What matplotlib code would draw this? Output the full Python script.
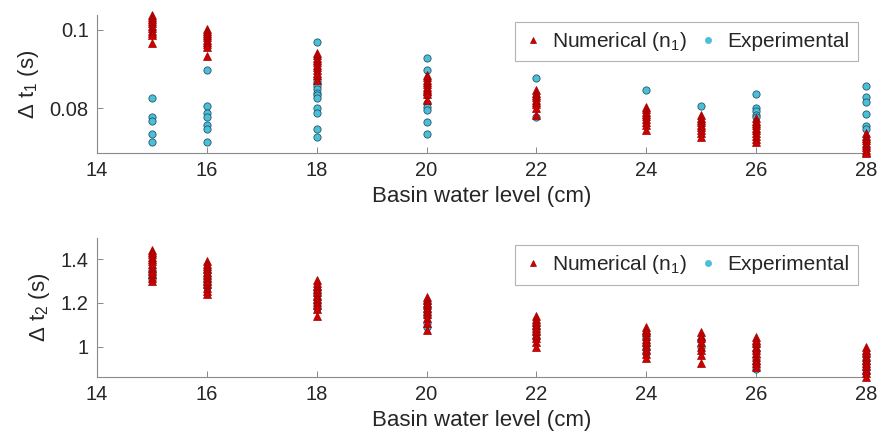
import numpy as np
import matplotlib
matplotlib.use("Agg")
import matplotlib.pyplot as plt
from matplotlib.lines import Line2D

plt.rcParams["font.family"] = ["Liberation Sans", "DejaVu Sans"]
plt.rcParams["mathtext.fontset"] = "custom"
plt.rcParams["mathtext.rm"] = "Liberation Sans"
plt.rcParams["mathtext.default"] = "regular"

# -----------------------------
# Datos (nivel del agua en cm)
# -----------------------------

levels = [15, 16, 18, 20, 22, 24, 25, 26, 28]

dt1_num = [
    [0.1038, 0.1032, 0.1027, 0.1022, 0.1016, 0.1010, 0.1004, 0.0998, 0.0992, 0.0987, 0.0967],
    [0.1002, 0.0997, 0.0992, 0.0986, 0.0981, 0.0975, 0.0969, 0.0963, 0.0957, 0.0933],
    [0.0941, 0.0935, 0.0929, 0.0923, 0.0917, 0.0911, 0.0905, 0.0898, 0.0891, 0.0884, 0.0872],
    [0.0885, 0.0879, 0.0873, 0.0867, 0.0861, 0.0855, 0.0849, 0.0843, 0.0836, 0.0820],
    [0.0846, 0.0840, 0.0834, 0.0828, 0.0822, 0.0816, 0.0810, 0.0800, 0.0782],
    [0.0803, 0.0797, 0.0791, 0.0785, 0.0779, 0.0772, 0.0765, 0.0758, 0.0744],
    [0.0782, 0.0776, 0.0770, 0.0764, 0.0758, 0.0752, 0.0745, 0.0737, 0.0726],
    [0.0774, 0.0768, 0.0762, 0.0756, 0.0750, 0.0744, 0.0737, 0.0730, 0.0722, 0.0713],
    [0.0736, 0.0730, 0.0724, 0.0718, 0.0712, 0.0706, 0.0700, 0.0694, 0.0688, 0.0686],
]

dt1_exp = [
    [0.0826, 0.0778, 0.0767, 0.0735, 0.0714],
    [0.0897, 0.0805, 0.0788, 0.0778, 0.0756, 0.0748, 0.0714],
    [0.0968, 0.0872, 0.0864, 0.0856, 0.0848, 0.0840, 0.0833, 0.0826, 0.0800, 0.0787, 0.0746, 0.0726],
    [0.0927, 0.0897, 0.0833, 0.0813, 0.0803, 0.0795, 0.0765, 0.0735],
    [0.0876, 0.0777],
    [0.0846],
    [0.0805],
    [0.0836, 0.0800, 0.0792, 0.0784, 0.0777],
    [0.0856, 0.0828, 0.0815, 0.0785, 0.0754, 0.0746],
]

dt2_num = [
    [1.441, 1.432, 1.422, 1.411, 1.400, 1.390, 1.380, 1.359, 1.345, 1.330, 1.315, 1.300],
    [1.392, 1.380, 1.368, 1.356, 1.342, 1.328, 1.314, 1.300, 1.285, 1.270, 1.256, 1.243],
    [1.304, 1.290, 1.276, 1.262, 1.248, 1.234, 1.220, 1.205, 1.190, 1.172, 1.140],
    [1.228, 1.215, 1.202, 1.189, 1.176, 1.162, 1.148, 1.130, 1.110, 1.076],
    [1.141, 1.128, 1.115, 1.100, 1.085, 1.070, 1.055, 1.040, 1.020, 0.997],
    [1.091, 1.078, 1.065, 1.050, 1.035, 1.020, 1.005, 0.985, 0.965, 0.947],
    [1.068, 1.050, 1.040, 1.020, 1.000, 0.985, 0.960, 0.926],
    [1.045, 1.030, 1.015, 1.000, 0.985, 0.970, 0.955, 0.940, 0.925, 0.908],
    [1.000, 0.985, 0.970, 0.955, 0.940, 0.925, 0.910, 0.895, 0.880, 0.862],
]

dt2_exp = [
    [1.350, 1.335, 1.320, 1.310],
    [1.340, 1.320, 1.300, 1.285, 1.274],
    [1.258, 1.240, 1.220, 1.200, 1.176],
    [1.200, 1.180, 1.160, 1.140, 1.110, 1.090],
    [1.100, 1.080, 1.060, 1.040],
    [1.060, 1.040, 1.010, 0.990, 0.970],
    [1.030, 1.000],
    [1.010, 0.980, 0.950, 0.920, 0.900],
    [0.960, 0.940, 0.920, 0.900, 0.880],
]

x_ticks = [14, 16, 18, 20, 22, 24, 26, 28]


def aplanar(grupos):
    xs = np.repeat(levels, [len(g) for g in grupos])
    ys = np.concatenate([np.array(g) for g in grupos])
    return xs, ys


# -----------------------------
# Estilo
# -----------------------------

rojo = "#d00000"
rojo_borde = "#a00000"
cian = "#4cbfd8"
cian_borde = "#24566a"
gris = "#8a8a8a"
texto = "#262626"

fig = plt.figure(figsize=(8.77, 4.37), dpi=100)
ax1 = fig.add_axes([0.1106, 0.650, 0.877, 0.316])
ax2 = fig.add_axes([0.1106, 0.137, 0.877, 0.318])


def dibujar(ax, num, exp, ylim, yticks, yticklabels, ylabel):
    xe, ye = aplanar(exp)
    xn, yn = aplanar(num)
    ax.plot(xe, ye, "o", ms=5.2, mfc=cian, mec=cian_borde, mew=0.6,
            clip_on=False, zorder=2)
    ax.plot(xn, yn, "^", ms=5.6, mfc=rojo, mec=rojo_borde, mew=0.5,
            clip_on=False, zorder=3)

    ax.set_xlim(14, 28)
    ax.set_ylim(*ylim)
    ax.set_xticks(x_ticks)
    ax.set_yticks(yticks)
    ax.set_yticklabels(yticklabels)

    for lado in ["top", "right"]:
        ax.spines[lado].set_visible(False)
    for lado in ["left", "bottom"]:
        ax.spines[lado].set_color(gris)
        ax.spines[lado].set_linewidth(0.8)

    ax.tick_params(direction="in", length=4, width=0.7, color=gris,
                   labelsize=14.5, labelcolor=texto, pad=6)
    ax.set_xlabel("Basin water level (cm)", fontsize=16, color=texto,
                  labelpad=4)
    ax.set_ylabel(ylabel, fontsize=16, color=texto, labelpad=6)

    h_num = Line2D([], [], ls="none", marker="^", ms=5, mfc=rojo,
                   mec=rojo_borde, mew=0.5)
    h_exp = Line2D([], [], ls="none", marker="o", ms=4.5, mfc=cian,
                   mec=cian, mew=0.5)
    leg = ax.legend([h_num, h_exp], ["Numerical (n$_1$)", "Experimental"],
                    ncol=2, loc="upper right", bbox_to_anchor=(0.989, 0.95),
                    fontsize=15, frameon=True, fancybox=False,
                    borderpad=0.4, handlelength=0.9, handletextpad=0.45,
                    columnspacing=0.6, borderaxespad=0.0)
    leg.get_frame().set_edgecolor("#a0a0a0")
    leg.get_frame().set_linewidth(0.8)
    for t in leg.get_texts():
        t.set_color(texto)


dibujar(ax1, dt1_num, dt1_exp, (0.0686, 0.1038), [0.08, 0.1],
        ["0.08", "0.1"], "Δ t$_1$ (s)")
dibujar(ax2, dt2_num, dt2_exp, (0.861, 1.496), [1.0, 1.2, 1.4],
        ["1", "1.2", "1.4"], "Δ t$_2$ (s)")

fig.savefig("out.png", dpi=100)
